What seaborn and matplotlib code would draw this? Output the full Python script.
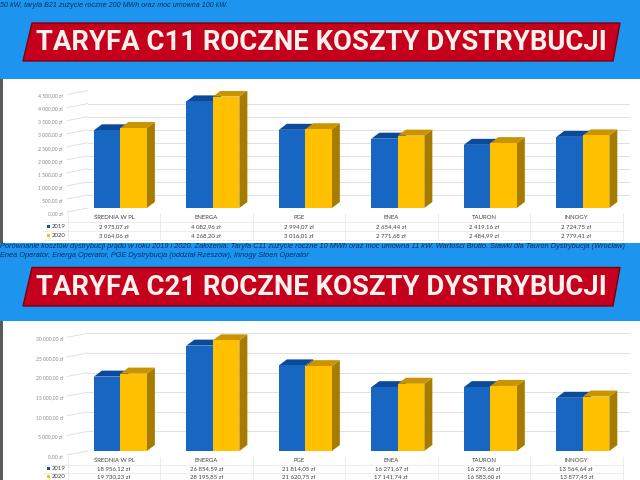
import matplotlib
matplotlib.use("Agg")
import matplotlib.pyplot as plt
import seaborn as sns
import pandas as pd
from matplotlib.patches import Polygon, Rectangle
from matplotlib.lines import Line2D
from matplotlib.transforms import ScaledTranslation, blended_transform_factory

# ---------------- data ----------------
categories = ["ŚREDNIA W PL", "ENERGA", "PGE", "ENEA", "TAURON", "INNOGY"]
years = ["2019", "2020"]
c11_2019 = [2975.07, 4082.96, 2994.07, 2654.44, 2419.16, 2724.75]
c11_2020 = [3064.06, 4268.20, 3016.01, 2771.68, 2484.99, 2779.41]
c21_2019 = [18956.12, 26854.59, 21814.05, 16271.67, 16275.66, 13564.64]
c21_2020 = [19730.23, 28195.85, 21620.75, 17141.74, 16583.60, 13877.45]
c11_ticks = [0, 500, 1000, 1500, 2000, 2500, 3000, 3500, 4000, 4500]
c21_ticks = [0, 5000, 10000, 15000, 20000, 25000, 30000]
title_c11 = "TARYFA C11 ROCZNE KOSZTY DYSTRYBUCJI"
title_c21 = "TARYFA C21 ROCZNE KOSZTY DYSTRYBUCJI"
top_note = "50 kW, taryfa B21 zużycie roczne 200 MWh oraz moc umowna 100 kW."
caption_lines = [
    "Porównanie kosztów dystrybucji prądu w roku 2019 i 2020. Założenia: Taryfa C11 zużycie roczne 10 MWh oraz moc umowna 11 kW. Wartości Brutto. Stawki dla Tauron Dystrybucja (Wrocław)",
    "Enea Operator, Energa Operator, PGE Dystrybucja (oddział Rzeszów), Innogy Stoen Operator",
]

# ---------------- style ----------------
BG_BLUE = "#1d95ee"
RED = "#c4001c"
RED_EDGE = "#7a0010"
BAR_COLORS = {"2019": "#1766c2", "2020": "#ffc000"}
TOP_COLORS = {"2019": "#0b4a9a", "2020": "#c99400"}
SIDE_COLORS = {"2019": "#0a3d7e", "2020": "#a67c00"}
GRID = "#dcdcdc"
TXT = "#404040"

sns.set_theme(style="white")
plt.rcParams["font.family"] = ["Lato", "DejaVu Sans"]

W, H = 640, 480
fig = plt.figure(figsize=(6.4, 4.8), dpi=100)
fig.patch.set_facecolor(BG_BLUE)
renderer = fig.canvas.get_renderer()


def fx(x):
    return x / W


def fy(y):
    return 1 - y / H


def fit_width(t, target_px):
    fs = t.get_fontsize()
    for _ in range(3):
        w = t.get_window_extent(renderer=renderer).width
        fs = fs * target_px / w
        t.set_fontsize(fs)


def fmt(v):
    return f"{v:,.2f}".replace(",", " ").replace(".", ",") + " zł"


# top note
t = fig.text(fx(0), fy(5.5), top_note, fontsize=5, style="italic", color="#0b2a66",
             family=["Liberation Sans", "DejaVu Sans"], va="center", ha="left")
fit_width(t, 228)

# white panels
for (y0, y1) in [(79, 243), (321, 480)]:
    fig.add_artist(Rectangle((0, fy(y1)), 1, (y1 - y0) / H, transform=fig.transFigure,
                             facecolor="white", edgecolor="none", zorder=-10))
    fig.add_artist(Rectangle((0, fy(y1)), fx(2.5), (y1 - y0) / H, transform=fig.transFigure,
                             facecolor="#5a5a5a", edgecolor="none", zorder=-9))

# caption
for i, line in enumerate(caption_lines):
    t = fig.text(fx(0), fy(246.5 + 9 * i), line, fontsize=5, style="italic", color="#0b2a66",
                 family=["Liberation Sans", "DejaVu Sans"], va="center", ha="left")
    if i == 0:
        fit_width(t, 625)
        cap_fs = t.get_fontsize()
    else:
        t.set_fontsize(cap_fs)


def banner(ytop, ybot, title):
    poly = Polygon([(fx(32), fy(ytop)), (fx(620), fy(ytop)), (fx(613), fy(ybot)), (fx(23), fy(ybot))],
                   closed=True, transform=fig.transFigure, facecolor=RED, edgecolor=RED_EDGE,
                   linewidth=1.0, zorder=1)
    fig.add_artist(poly)
    t = fig.text(fx(321), fy((ytop + ybot) / 2 + 0.5), title, fontsize=18, fontweight="bold",
                 color="#fdf1ec", family=["Roboto", "DejaVu Sans"], ha="center", va="center",
                 zorder=2)
    fit_width(t, 572)


banner(23, 61, title_c11)
banner(267.5, 306, title_c21)


def chart(vals19, vals20, ticks, y_bottom, y_top, rows_y):
    df = pd.DataFrame({
        "category": categories * 2,
        "year": [years[0]] * len(categories) + [years[1]] * len(categories),
        "value": list(vals19) + list(vals20),
    })
    ax = fig.add_axes([fx(88), fy(y_bottom), fx(630) - fx(88), (y_bottom - y_top) / H])
    ax.set_facecolor("none")
    sns.barplot(data=df, x="category", y="value", hue="year", palette=BAR_COLORS,
                width=0.573, saturation=1, linewidth=0, legend=False, ax=ax, zorder=3)
    ax.set_xlim(-0.35, 5.51)
    ax.set_ylim(ticks[0], ticks[-1])
    ax.set_xticks([])
    ax.set_xlabel("")
    ax.set_ylabel("")
    ax.set_yticks(ticks)
    ax.set_yticklabels([fmt(v) for v in ticks])
    ax.tick_params(axis="y", length=0, pad=18, labelsize=3.6, labelcolor="#8a8a8a")
    for lab in ax.get_yticklabels():
        lab.set_transform(lab.get_transform() + ScaledTranslation(0, -5 / 100, fig.dpi_scale_trans))
    ax.yaxis.grid(True, color=GRID, linewidth=0.6)
    ax.set_axisbelow(True)
    for s in ax.spines.values():
        s.set_visible(False)

    # side wall lines
    inv = fig.transFigure.inverted()
    for v in ticks:
        yd = ax.transData.transform((0, v))[1]
        yf = inv.transform((0, yd))[1]
        fig.add_artist(Line2D([fx(88), fx(67)], [yf, yf - 4 / H], transform=fig.transFigure,
                              color=GRID, linewidth=0.6, zorder=0.5))

    # 3D faces
    dinv = ax.transData.inverted()
    dx, dy = 8, 6
    for cont, yr in zip(ax.containers, years):
        for p in cont.patches:
            x0, w, h = p.get_x(), p.get_width(), p.get_height()
            (xl, yb), (xr, yt) = ax.transData.transform([(x0, 0), (x0 + w, h)])
            top = [(xl, yt), (xr, yt), (xr + dx, yt + dy), (xl + dx, yt + dy)]
            side = [(xr, yb), (xr + dx, yb + dy), (xr + dx, yt + dy), (xr, yt)]
            ax.add_patch(Polygon(dinv.transform(side), closed=True, facecolor=SIDE_COLORS[yr],
                                 edgecolor="none", zorder=2.5))
            ax.add_patch(Polygon(dinv.transform(top), closed=True, facecolor=TOP_COLORS[yr],
                                 edgecolor="none", zorder=2.5))

    # data table
    tr = blended_transform_factory(ax.transData, fig.transFigure)
    off = -0.07
    for i, c in enumerate(categories):
        ax.text(i + off, fy(rows_y[0]), c, transform=tr, ha="center", va="center",
                fontsize=4.3, color=TXT, clip_on=False)
        ax.text(i + off, fy(rows_y[1]), fmt(vals19[i]), transform=tr, ha="center", va="center",
                fontsize=4.3, color=TXT, clip_on=False)
        ax.text(i + off, fy(rows_y[2]), fmt(vals20[i]), transform=tr, ha="center", va="center",
                fontsize=4.3, color=TXT, clip_on=False)
    step = rows_y[1] - rows_y[0]
    for i in range(len(categories) + 1):
        ax.plot([i + off - 0.5] * 2, [fy(rows_y[0] - step / 2), fy(rows_y[2] + step / 2)], transform=tr,
                color="#e4e4e4", linewidth=0.5, clip_on=False)
    for yy in [rows_y[0] + step / 2, rows_y[1] + step / 2, rows_y[2] + step / 2]:
        fig.add_artist(Line2D([fx(43), fx(623)], [fy(yy), fy(yy)], transform=fig.transFigure,
                              color="#e4e4e4", linewidth=0.5, zorder=0.5))
    for yr, ry in zip(years, rows_y[1:]):
        fig.add_artist(Rectangle((fx(46.5), fy(ry + 1.5)), 3 / W, 3 / H, transform=fig.transFigure,
                                 facecolor=BAR_COLORS[yr] if yr == "2020" else "#1f4e9c",
                                 edgecolor="none", zorder=2))
        fig.text(fx(51.5), fy(ry), yr, fontsize=4.3, color=TXT, ha="left", va="center")
    return ax


chart(c11_2019, c11_2020, c11_ticks, 208, 90.5, [217.7, 226.7, 235.7])
chart(c21_2019, c21_2020, c21_ticks, 451, 333.3, [461, 468.8, 476.3])

fig.savefig("out.png", dpi=100, facecolor=fig.get_facecolor())
